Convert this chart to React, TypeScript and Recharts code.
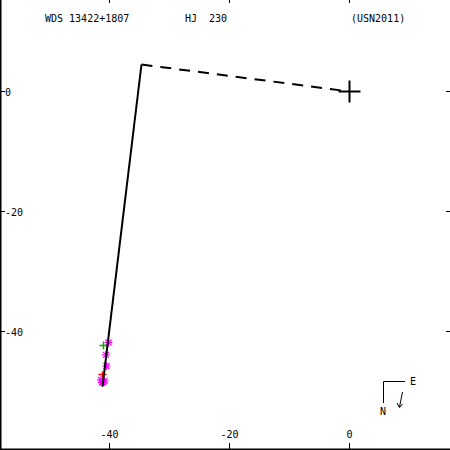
import { ScatterChart, Scatter, XAxis, YAxis } from 'recharts';

// values (6px per unit)
const xTicks = [-40, -20, 0];
const yTicks = [-40, -20, 0];

const fitX = [-34.67, -41.17];
const fitY = [4.5, -49.17];

const linkX = [-34.67, 0];
const linkY = [4.5, 0];

const primaryX = [0];
const primaryY = [0];

const measX = [-40.17, -40.6, -40.5, -41.42, -41.08, -40.83, -41.25];
const measY = [-41.83, -43.9, -45.75, -48.08, -48.42, -48.25, -48.5];

const firstX = [-41.0];
const firstY = [-42.33];

const lastX = [-41.17];
const lastY = [-47.17];

const zip = (xs: number[], ys: number[]) => xs.map((x, i) => ({ x, y: ys[i] }));

const FONT = '"DejaVu Sans Mono", monospace';

const Star = ({ cx, cy }: any) => (
  <g stroke="#ff00ff" strokeWidth={1.2}>
    <line x1={cx - 4} y1={cy} x2={cx + 4} y2={cy} />
    <line x1={cx} y1={cy - 4} x2={cx} y2={cy + 4} />
    <line x1={cx - 3} y1={cy - 3} x2={cx + 3} y2={cy + 3} />
    <line x1={cx - 3} y1={cy + 3} x2={cx + 3} y2={cy - 3} />
  </g>
);

const plus = (color: string, w: number, h: number, sw: number) => ({ cx, cy }: any) => (
  <g stroke={color} strokeWidth={sw}>
    <line x1={cx - w} y1={cy} x2={cx + w} y2={cy} />
    <line x1={cx} y1={cy - h} x2={cx} y2={cy + h} />
  </g>
);

const BottomTick = ({ x, payload }: any) => (
  <g>
    <line x1={x} y1={449} x2={x} y2={443} stroke="#000" />
    <text x={x} y={438} textAnchor="middle" fontFamily={FONT} fontSize={10} fill="#000">
      {payload.value}
    </text>
  </g>
);
const TopTick = ({ x }: any) => <line x1={x} y1={0} x2={x} y2={3} stroke="#000" />;
const LeftTick = ({ y, payload }: any) => (
  <g>
    <line x1={1} y1={y} x2={5} y2={y} stroke="#000" />
    <text x={5} y={y + 4} textAnchor="start" fontFamily={FONT} fontSize={10} fill="#000">
      {payload.value}
    </text>
  </g>
);
const RightTick = ({ y }: any) => <line x1={446} y1={y} x2={450} y2={y} stroke="#000" />;

const none = () => null;

export default function App() {
  const xDom = [-58.25, 16.75];
  const yDom = [-59.75, 15.25];
  return (
    <div style={{ position: 'absolute', left: 0, top: 0, width: 450, height: 450, background: '#fff' }}>
      <ScatterChart width={450} height={450} margin={{ top: -1, right: -1, bottom: -1, left: -1 }}>
        <XAxis xAxisId="b" type="number" dataKey="x" domain={xDom} ticks={xTicks} allowDataOverflow
          orientation="bottom" height={1} tickLine={false} tick={<BottomTick />} interval={0}
          axisLine={{ stroke: '#000', strokeWidth: 3 }} />
        <XAxis xAxisId="t" type="number" dataKey="x" domain={xDom} ticks={xTicks} allowDataOverflow
          orientation="top" height={1} tickLine={false} tick={<TopTick />} interval={0} axisLine={false} />
        <YAxis yAxisId="l" type="number" dataKey="y" domain={yDom} ticks={yTicks} allowDataOverflow
          orientation="left" width={1} tickLine={false} tick={<LeftTick />} interval={0}
          axisLine={{ stroke: '#000', strokeWidth: 3 }} />
        <YAxis yAxisId="r" type="number" dataKey="y" domain={yDom} ticks={yTicks} allowDataOverflow
          orientation="right" width={1} tickLine={false} tick={<RightTick />} interval={0} axisLine={false} />
        <Scatter xAxisId="b" yAxisId="l" data={zip(measX, measY)} shape={<Star />} isAnimationActive={false} />
        <Scatter xAxisId="b" yAxisId="l" data={zip(firstX, firstY)} shape={plus('#00b000', 4, 4, 1.5)} isAnimationActive={false} />
        <Scatter xAxisId="b" yAxisId="l" data={zip(lastX, lastY)} shape={plus('#ff0000', 4, 3, 1.5)} isAnimationActive={false} />
        <Scatter xAxisId="b" yAxisId="l" data={zip(fitX, fitY)} shape={none}
          line={{ stroke: '#000', strokeWidth: 2 }} isAnimationActive={false} />
        <Scatter xAxisId="b" yAxisId="l" data={zip(linkX, linkY)} shape={none}
          line={{ stroke: '#000', strokeWidth: 2, strokeDasharray: '11 8' }} isAnimationActive={false} />
        <Scatter xAxisId="b" yAxisId="l" data={zip(primaryX, primaryY)} shape={plus('#000', 11, 11, 2)} isAnimationActive={false} />
      </ScatterChart>
      <svg width={450} height={450} style={{ position: 'absolute', left: 0, top: 0, pointerEvents: 'none' }}>
        <g fontFamily={FONT} fontSize={10} fill="#000">
          <text x={45} y={22}>WDS 13422+1807</text>
          <text x={185} y={22} style={{ whiteSpace: 'pre' }}>{'HJ  230'}</text>
          <text x={351} y={22}>(USN2011)</text>
          <text x={410} y={385}>E</text>
          <text x={380} y={415}>N</text>
        </g>
        <g stroke="#000" strokeWidth={1} fill="none">
          <polyline points="405,381.5 383.5,381.5 383.5,403" />
          <line x1={402.5} y1={392} x2={399.5} y2={407} />
          <polyline points="397,403 399.5,407.5 402.5,404" />
        </g>
      </svg>
    </div>
  );
}
